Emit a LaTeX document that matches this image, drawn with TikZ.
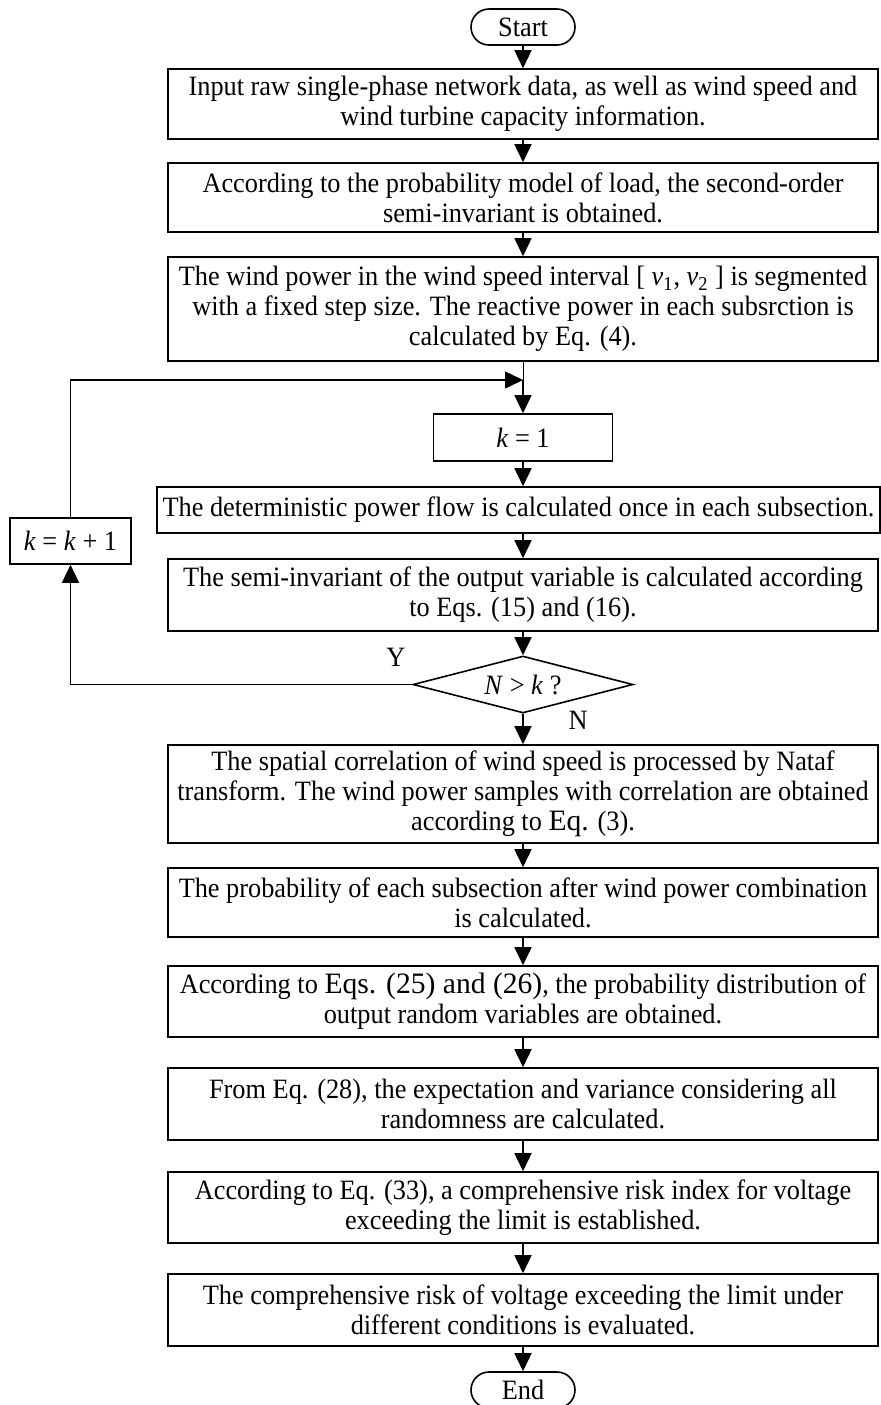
\documentclass[tikz,border=0pt]{standalone}
\usepackage{fontspec}
\setmainfont{Liberation Serif}[FakeStretch=0.94]
\newfontfamily\eqfont{Liberation Serif}
\newcommand{\eqtext}[1]{{\eqfont\fontsize{14.8}{15}\selectfont #1}}
\usetikzlibrary{shapes.geometric,arrows.meta}

\begin{document}
\begin{tikzpicture}[x=0.5pt,y=-0.5pt,
			font=\fontsize{14}{15}\selectfont,
			box/.style={draw, line width=0.8pt, align=center, inner sep=1pt, minimum width=355pt},
			term/.style={draw, line width=0.8pt, rounded corners=9pt, minimum width=52pt, minimum height=18pt, inner sep=1pt},
			cond/.style={draw, line width=0.8pt, shape=diamond, aspect=3.86, inner sep=0pt, minimum width=110pt, minimum height=28.5pt},
			flow/.style={line width=0.8pt, -{Triangle[length=9pt,width=8.5pt]}}]
				\useasboundingbox (0,0) rectangle (880,1405);

				\node[term] (start) at (523,27) {Start};
				\node[box, minimum height=35pt] (input) at (523,104) {Input raw single-phase network data, as well as wind speed and\\wind turbine capacity information.};
				\node[box, minimum height=34.5pt] (load) at (523,197.5) {According to the probability model of load, the second-order\\semi-invariant is obtained.};
				\node[box, minimum height=52pt] (segm) at (523,309) {The wind power in the wind speed interval [ \textit{v}\textsubscript{1}, \textit{v}\textsubscript{2} ] is segmented\\with a fixed step size. The reactive power in each subsrction is\\calculated by Eq. (4).};
				\coordinate (join) at (523,380);
				\node[box, minimum width=89.5pt, minimum height=23.5pt] (kone) at (523,437.5) {\textit{k} = 1};
				\node[box, minimum width=361.5pt, minimum height=23pt] (det) at (518.5,510) {The deterministic power flow is calculated once in each subsection.};
				\node[box, minimum height=36pt] (semi) at (523,595) {The semi-invariant of the output variable is calculated according\\to Eqs. (15) and (16).};
				\node[cond] (test) at (523,684.5) {\textit{N} > \textit{k} ?};
				\node[box, minimum width=60.5pt, minimum height=23pt] (kinc) at (70.5,541) {\textit{k} = \textit{k} + 1};
				\node (yes) at (396,657) {Y};
				\node (no) at (578,720) {N};
				\node[box, minimum height=49pt] (nataf) at (523,794) {The spatial correlation of wind speed is processed by Nataf\\transform. The wind power samples with correlation are obtained\\according to \eqtext{Eq.} (3).};
				\node[box, minimum height=34.5pt] (prob) at (523,902.5) {The probability of each subsection after wind power combination\\is calculated.};
				\node[box, minimum height=35.5pt] (dist) at (523,1001.5) {According to \eqtext{Eqs. (25) and (26)}, the probability distribution of\\output random variables are obtained.};
				\node[box, minimum height=36pt] (expe) at (523,1104) {From Eq. (28), the expectation and variance considering all\\randomness are calculated.};
				\node[box, minimum height=35.5pt] (risk) at (523,1207.5) {According to Eq. (33), a comprehensive risk index for voltage\\exceeding the limit is established.};
				\node[box, minimum height=36pt] (eval) at (523,1310) {The comprehensive risk of voltage exceeding the limit under\\different conditions is evaluated.};
				\node[term] (stop) at (523,1390) {End};

				\draw[flow] (start) -- (input);
				\draw[flow] (input) -- (load);
				\draw[flow] (load) -- (segm);
				\draw (segm) -- (join);
				\draw[flow] (join) -- (kone);
				\draw[flow] (kone) -- (kone |- det.north);
				\draw[flow] (kone |- det.south) -- (semi);
				\draw[flow] (semi) -- (test);
				\draw[flow] (test.west) -| (kinc.south);
				\draw[flow] (kinc.north) |- (join);
				\draw[flow] (test) -- (nataf);
				\draw[flow] (nataf) -- (prob);
				\draw[flow] (prob) -- (dist);
				\draw[flow] (dist) -- (expe);
				\draw[flow] (expe) -- (risk);
				\draw[flow] (risk) -- (eval);
				\draw[flow] (eval) -- (stop);
\end{tikzpicture}
\end{document}
